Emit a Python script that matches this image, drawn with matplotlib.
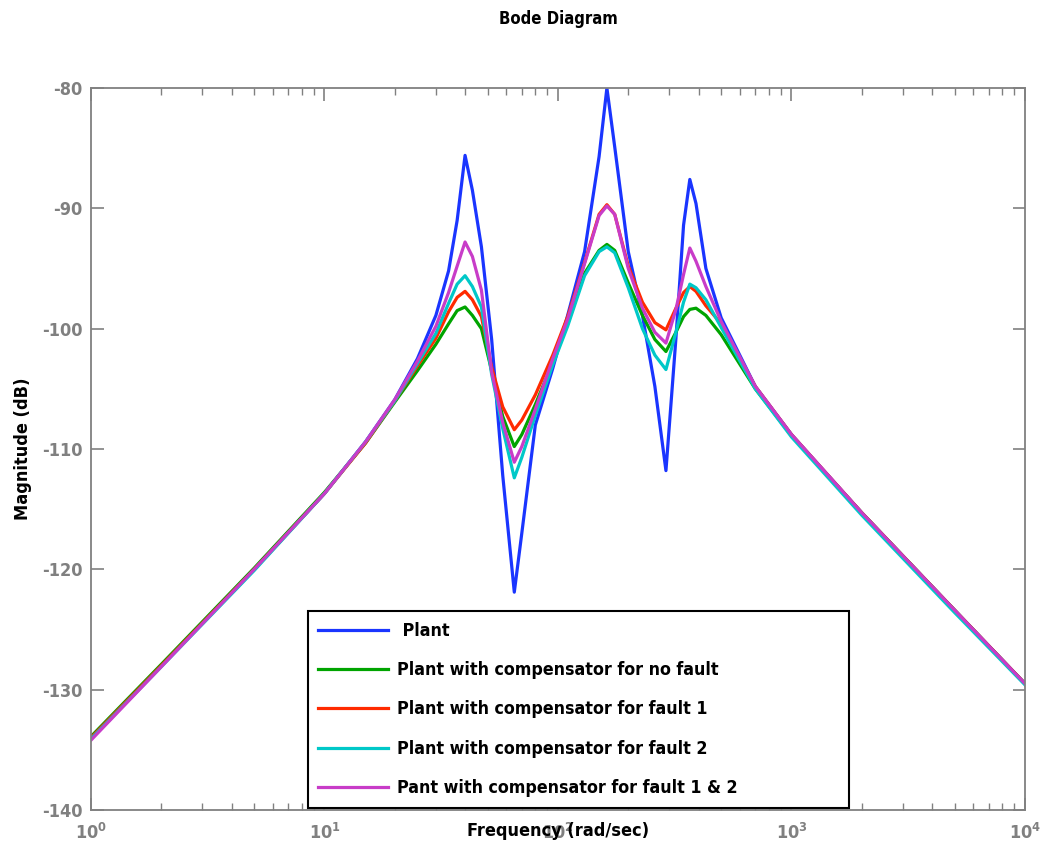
import matplotlib
matplotlib.use("Agg")
import matplotlib.pyplot as plt
from matplotlib.ticker import LogLocator, NullFormatter

plt.rcParams["font.family"] = ["DejaVu Sans"]
plt.rcParams["font.stretch"] = "condensed"
plt.rcParams["font.weight"] = "bold"
plt.rcParams["axes.unicode_minus"] = False
plt.rcParams["mathtext.default"] = "bf"

# frequency grid (rad/sec) and magnitudes (dB)
freq = [1, 2, 5, 10, 15, 20, 25, 30, 34, 37, 40, 43, 47, 52, 58, 65, 70, 80,
        95, 110, 130, 150, 162, 175, 200, 230, 260, 290, 320, 345, 367, 390,
        430, 500, 700, 1000, 2000, 5000, 10000]

plant = [-134.1, -128.0, -120.0, -113.7, -109.4, -105.9, -102.5, -98.9, -95.2,
         -91.0, -85.6, -88.5, -93.2, -100.9, -112.2, -121.9, -117.0, -108.0,
         -103.3, -98.9, -93.6, -85.7, -80.0, -84.9, -93.6, -98.9, -104.8,
         -111.8, -100.8, -91.4, -87.6, -89.6, -95.0, -99.1, -104.8, -108.8,
         -115.3, -123.4, -129.5]
no_fault = [-133.9, -127.9, -119.9, -113.6, -109.5, -106.1, -103.5, -101.3,
            -99.6, -98.5, -98.2, -98.9, -100.0, -103.5, -107.3, -109.8, -108.8,
            -106.3, -102.8, -99.6, -95.4, -93.5, -93.0, -93.5, -96.2, -98.9,
            -100.9, -101.9, -100.3, -99.0, -98.4, -98.3, -98.9, -100.5, -105.0,
            -108.9, -115.3, -123.4, -129.5]
fault1 = [-134.0, -128.0, -120.0, -113.7, -109.5, -106.0, -103.1, -100.8,
          -98.6, -97.4, -96.9, -97.6, -99.0, -103.2, -106.5, -108.4, -107.6,
          -105.5, -102.2, -99.0, -94.5, -90.5, -89.7, -90.5, -94.8, -97.8,
          -99.5, -100.1, -98.3, -97.0, -96.5, -96.9, -98.1, -99.6, -104.8,
          -108.8, -115.3, -123.4, -129.5]
fault2 = [-134.1, -128.1, -120.1, -113.7, -109.4, -106.0, -102.9, -100.4,
          -97.9, -96.3, -95.6, -96.5, -98.2, -103.8, -108.3, -112.4, -110.7,
          -107.2, -103.0, -99.8, -95.6, -93.6, -93.2, -93.7, -96.6, -100.0,
          -102.2, -103.4, -100.3, -97.8, -96.3, -96.6, -97.6, -99.9, -105.0,
          -109.0, -115.5, -123.6, -129.6]
fault12 = [-134.2, -128.1, -120.0, -113.7, -109.4, -105.9, -102.7, -99.8,
           -97.0, -94.8, -92.8, -94.0, -96.8, -103.6, -107.8, -111.1, -109.8,
           -106.7, -102.5, -99.2, -94.6, -90.6, -89.8, -90.5, -95.0, -98.3,
           -100.3, -101.2, -98.4, -95.5, -93.3, -94.4, -96.5, -99.4, -104.8,
           -108.8, -115.3, -123.4, -129.5]

series = [
    (plant, "#1a35ff", " Plant"),
    (no_fault, "#00a400", "Plant with compensator for no fault"),
    (fault1, "#ff2a00", "Plant with compensator for fault 1"),
    (fault2, "#00c8c8", "Plant with compensator for fault 2"),
    (fault12, "#c83cc8", "Pant with compensator for fault 1 & 2"),
]

fig = plt.figure(figsize=(10.41, 8.46), dpi=100)
ax = fig.add_axes([0.0874, 0.0426, 0.8972, 0.8534])

for vals, col, lab in series:
    ax.semilogx(freq, vals, color=col, lw=2.3, label=lab)

ax.set_xlim(1, 1e4)
ax.set_ylim(-140, -80)
ax.set_yticks(range(-140, -79, 10))
ax.xaxis.set_major_locator(LogLocator(base=10, numticks=10))
ax.xaxis.set_minor_locator(LogLocator(base=10, subs=range(2, 10), numticks=20))
ax.xaxis.set_minor_formatter(NullFormatter())

grey = "#808080"
for sp in ax.spines.values():
    sp.set_color(grey)
    sp.set_linewidth(1.3)
ax.tick_params(which="both", direction="in", top=True, right=True,
               colors=grey, labelsize=13)
ax.tick_params(which="major", length=9, width=1.2, pad=6)
ax.tick_params(axis="x", which="major", pad=9)
ax.tick_params(which="minor", length=5, width=1.0)
for t in ax.get_xticklabels() + ax.get_yticklabels():
    t.set_fontweight("bold")

ax.set_title("Bode Diagram", fontsize=12, fontweight="bold", pad=46)
ax.set_xlabel("Frequency (rad/sec)", fontsize=13, fontweight="bold", labelpad=-15)
ax.set_ylabel("Magnitude (dB)", fontsize=13, fontweight="bold", labelpad=7)

leg = ax.legend(loc="lower left", bbox_to_anchor=(0.232, 0.003, 0.58, 0.278),
                mode="expand", fontsize=12.8,
                handlelength=3.9, handletextpad=0.5, labelspacing=1.2,
                borderpad=0.6, borderaxespad=0, fancybox=False, framealpha=1)
leg.get_frame().set_edgecolor("black")
leg.get_frame().set_linewidth(1.5)
for t in leg.get_texts():
    t.set_fontweight("bold")

fig.savefig("out.png", dpi=100)
